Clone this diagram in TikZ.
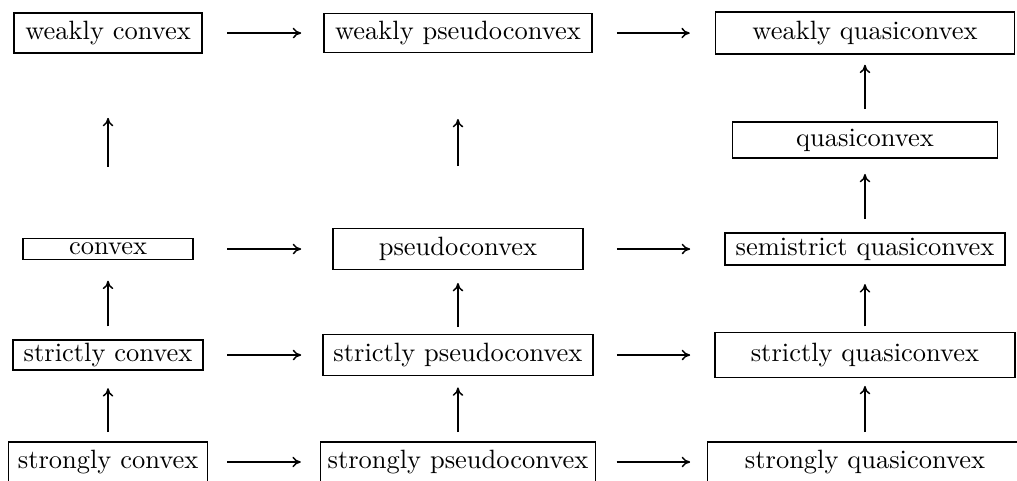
\documentclass[tikz,border=0pt]{standalone}
\usepackage{tikz}
\usetikzlibrary{arrows.meta}

\begin{document}
\begin{tikzpicture}[x=1cm,y=1cm,
    prop/.style={draw,line width=0.6pt,inner xsep=2pt,inner ysep=1pt,
      minimum width=#1},
    imp/.style={-{To[length=3.2pt,width=4pt]},line width=0.55pt}]
  \useasboundingbox (0,0) rectangle (13.5,6.372);
  \clip (0,0) rectangle (13.5,6.372);

  % weak notions
  \node[prop=2.50cm,minimum height=0.53cm] (wconvex) at (1.434,5.933) {weakly convex};
  \node[prop=3.56cm,minimum height=0.52cm] (wpseudo) at (6.079,5.933) {weakly pseudoconvex};
  \node[prop=3.97cm,minimum height=0.56cm] (wquasi) at (11.482,5.933) {weakly quasiconvex};
  \node[prop=3.52cm,minimum height=0.48cm] (quasi) at (11.482,4.513) {quasiconvex};

  % generalized convexity
  \node[prop=2.26cm,minimum height=0.28cm] (convex) at (1.434,3.066) {convex};
  \node[prop=3.32cm,minimum height=0.54cm] (pseudo) at (6.079,3.066) {pseudoconvex};
  \node[prop=3.72cm,minimum height=0.43cm] (semi) at (11.482,3.066) {semistrict quasiconvex};

  \node[prop=2.52cm,minimum height=0.40cm] (sconvex) at (1.434,1.659) {strictly convex};
  \node[prop=3.58cm,minimum height=0.54cm] (spseudo) at (6.079,1.659) {strictly pseudoconvex};
  \node[prop=3.98cm,minimum height=0.60cm] (squasi) at (11.482,1.659) {strictly quasiconvex};

  \node[prop=2.64cm,minimum height=0.53cm] (stconvex) at (1.434,0.239) {strongly convex};
  \node[prop=3.65cm,minimum height=0.53cm] (stpseudo) at (6.079,0.239) {strongly pseudoconvex};
  \node[prop=4.18cm,minimum height=0.53cm] (stquasi) at (11.482,0.239) {strongly quasiconvex};

  % horizontal implications
  \draw[imp,shorten <=0.32cm,shorten >=0.29cm] (wconvex) -- (wpseudo);
  \draw[imp,shorten <=0.32cm,shorten >=0.33cm] (wpseudo) -- (wquasi);
  \draw[imp,shorten <=0.44cm,shorten >=0.41cm] (convex) -- (pseudo);
  \draw[imp,shorten <=0.44cm,shorten >=0.45cm] (pseudo) -- (semi);
  \draw[imp,shorten <=0.31cm,shorten >=0.28cm] (sconvex) -- (spseudo);
  \draw[imp,shorten <=0.31cm,shorten >=0.32cm] (spseudo) -- (squasi);
  \draw[imp,shorten <=0.25cm,shorten >=0.25cm] (stconvex) -- (stpseudo);
  \draw[imp,shorten <=0.27cm,shorten >=0.22cm] (stpseudo) -- (stquasi);

  % vertical implications
  \draw[imp,shorten <=0.94cm,shorten >=0.85cm] (convex) -- (wconvex);
  \draw[imp,shorten <=0.17cm,shorten >=0.27cm] (sconvex) -- (convex);
  \draw[imp,shorten <=0.12cm,shorten >=0.23cm] (stconvex) -- (sconvex);
  \draw[imp,shorten <=0.82cm,shorten >=0.87cm] (pseudo) -- (wpseudo);
  \draw[imp,shorten <=0.09cm,shorten >=0.17cm] (spseudo) -- (pseudo);
  \draw[imp,shorten <=0.12cm,shorten >=0.15cm] (stpseudo) -- (spseudo);
  \draw[imp,shorten <=0.16cm,shorten >=0.13cm] (quasi) -- (wquasi);
  \draw[imp,shorten <=0.17cm,shorten >=0.20cm] (semi) -- (quasi);
  \draw[imp,shorten <=0.07cm,shorten >=0.24cm] (squasi) -- (semi);
  \draw[imp,shorten <=0.12cm,shorten >=0.10cm] (stquasi) -- (squasi);
\end{tikzpicture}
\end{document}
